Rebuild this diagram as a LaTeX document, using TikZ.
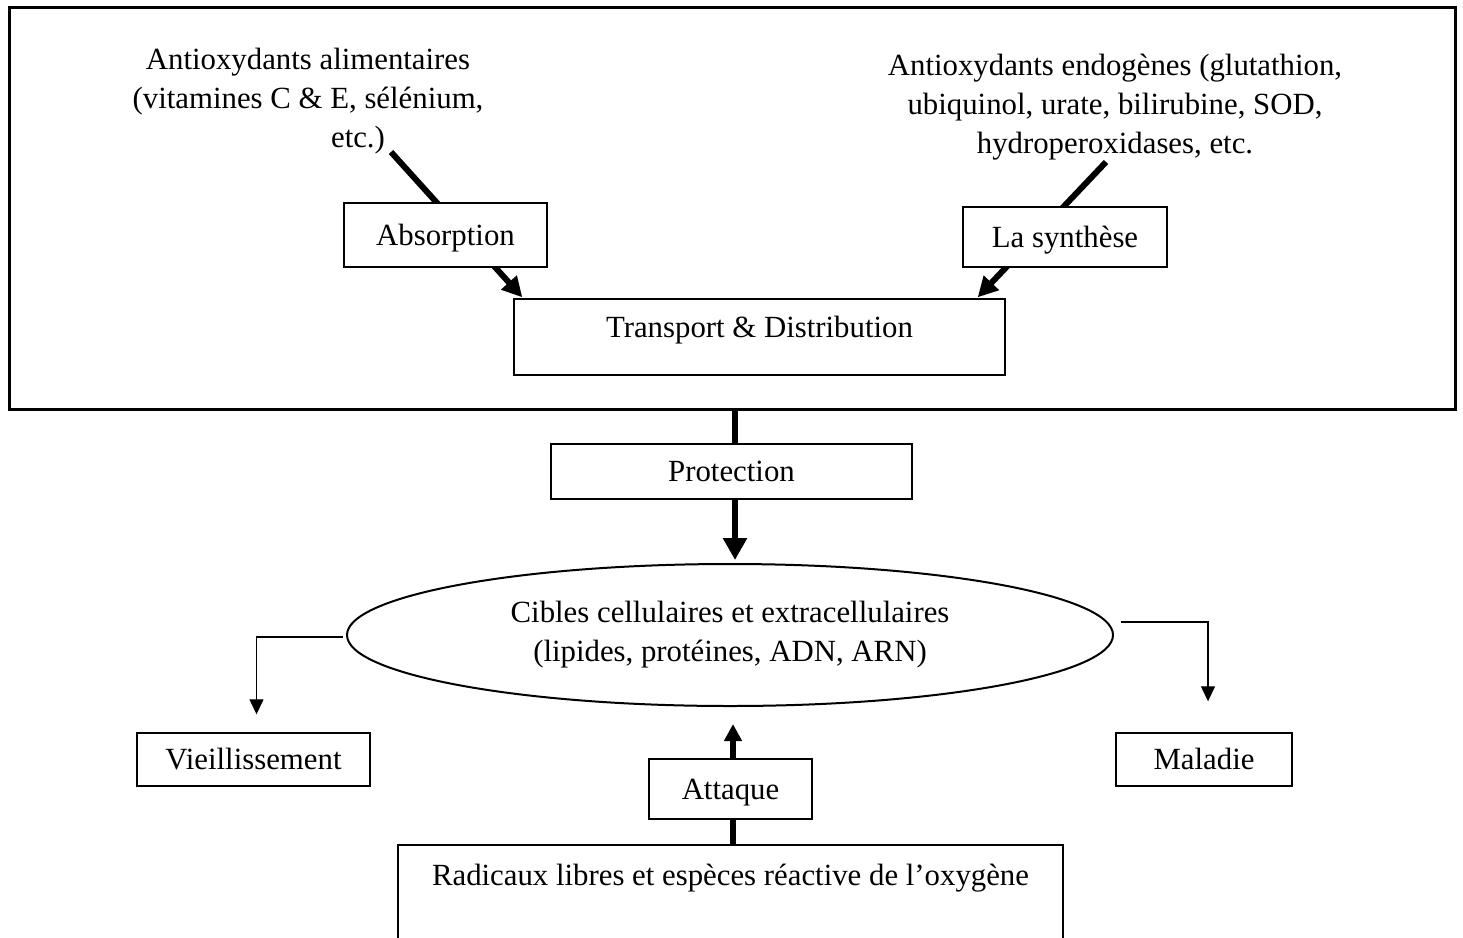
\documentclass[tikz,border=0pt]{standalone}
\usepackage{fontspec}
\setmainfont{Liberation Serif}
\usetikzlibrary{arrows.meta,shapes.geometric,calc,backgrounds}
\begin{document}
\begin{tikzpicture}[x=1pt,y=-1pt,
  every node/.style={font=\fontsize{30.8pt}{39pt}\selectfont},
  box/.style={draw,line width=1.4pt,fill=white,inner sep=0pt,align=center,text height=24pt,text depth=4pt},
  txt/.style={inner sep=0pt,align=center},
  diagarr/.style={line width=6pt,-{Triangle[width=20pt,length=20pt]}},
  bigarr/.style={line width=6.5pt,-{Triangle[width=23pt,length=22pt]}},
  attarr/.style={line width=5.5pt,-{Triangle[width=17pt,length=17pt]}},
  thinarr/.style={line width=1.3pt,-{Triangle[width=14pt,length=15pt]}}]
\useasboundingbox (0,0) rectangle (1463,937);
% frame
\node[draw,line width=3pt,inner sep=0pt,minimum width=1446pt,minimum height=402pt] (outer) at (732,208) {};
% texts
\node[txt] (lt) at (308,101) {Antioxydants alimentaires\\(vitamines C \& E, sélénium,\\\hspace*{100pt}etc.)};
\node[txt] (rt) at (1115,107) {Antioxydants endogènes (glutathion,\\ubiquinol, urate, bilirubine, SOD,\\hydroperoxidases, etc.};
% boxes
\node[box,minimum width=203pt,minimum height=64pt] (abs) at (445.5,235) {Absorption};
\node[box,minimum width=204pt,minimum height=60pt] (syn) at (1065,237) {La synthèse};
\node[box,minimum width=491pt,minimum height=76pt,text height=20pt,text depth=19pt] (trans) at (759.5,337) {Transport \& Distribution};
\node[box,minimum width=361pt,minimum height=55pt] (prot) at (731.5,471.5) {Protection};
\node[draw,line width=2pt,fill=white,ellipse,inner sep=0pt,align=center,minimum width=766pt,minimum height=142pt] (ell) at (730,635) {Cibles cellulaires et extracellulaires\\(lipides, protéines, ADN, ARN)};
\node[box,minimum width=233pt,minimum height=53pt] (vie) at (253.5,759.5) {Vieillissement};
\node[box,minimum width=176pt,minimum height=53pt] (mal) at (1204,759.5) {Maladie};
\node[box,minimum width=163pt,minimum height=60pt] (att) at (730.5,789) {Attaque};
\node[box,minimum width=665pt,minimum height=130pt,text height=15pt,text depth=65pt] (rad) at (730.5,910) {Radicaux libres et espèces réactive de l’oxygène};
% connectors
\begin{scope}[on background layer]
\coordinate (s1) at (391,152);
\coordinate (s2) at (1106,162);
\draw[diagarr] (s1) -- ($(trans.north west)+(9,-1)$);
\draw[diagarr] (s2) -- ($(trans.north east)+(-28,-1)$);
\coordinate (pr) at ($(prot.north)+(3.5,0)$);
\draw[line width=6.5pt] (outer.south -| pr) -- (pr);
\draw[bigarr] ($(prot.south)+(3.5,0)$) -- ($(ell.north)+(5,-3)$);
\draw[attarr] ($(rad.north)+(2.5,0)$) -- ($(ell.south)+(3,17)$);
\draw[thinarr] ($(ell.west)+(-3,2)$) -| ($(vie.north)+(3,-18)$);
\draw[thinarr] ($(ell.east)+(7,-13)$) -| ($(mal.north)+(4,-31)$);
\end{scope}
\end{tikzpicture}
\end{document}
